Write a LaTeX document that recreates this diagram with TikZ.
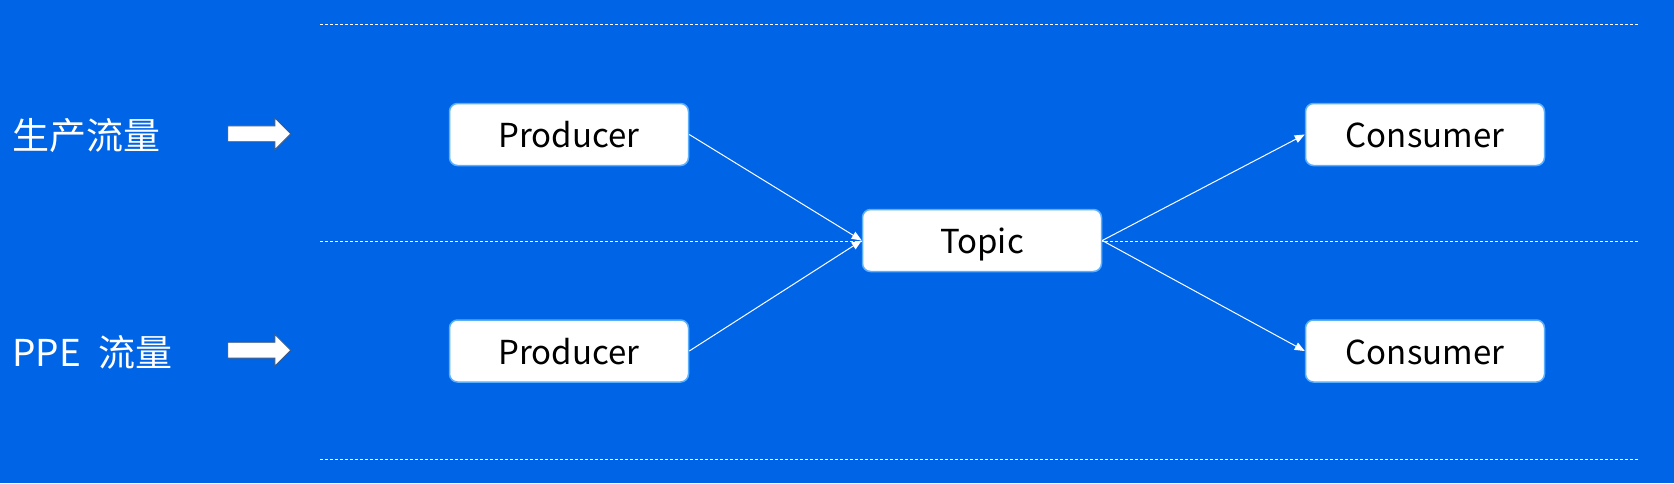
\documentclass[tikz,border=0pt]{standalone}
\usepackage{fontspec}
\setmainfont{Noto Sans CJK SC}
\newfontfamily\cjk{Noto Sans CJK SC}
\usetikzlibrary{shapes.arrows,arrows.meta}
\definecolor{bg}{HTML}{0064E6}
\definecolor{edgeblue}{HTML}{5AB0FF}
\definecolor{arrowline}{HTML}{3A5A8A}
\begin{document}
\begin{tikzpicture}[x=1pt,y=-1pt,
  box/.style={draw=edgeblue, line width=1.5pt, fill=white, rounded corners=8pt,
    minimum width=239pt, minimum height=62pt, inner sep=0pt,
    text height=26pt, text depth=0pt,
    font=\fontsize{33}{40}\selectfont, text=black},
  conn/.style={draw=white, line width=1pt, -{Triangle[length=10pt,width=8pt]}},
  sepline/.style={draw=white, line width=0.8pt, dash pattern=on 3pt off 2pt},
  lbl/.style={text=white, font=\cjk\fontsize{37}{42}\selectfont, anchor=west, inner sep=0pt},
  blockarrow/.style={single arrow, draw=arrowline, line width=0.8pt, fill=white,
    minimum height=63pt, minimum width=31pt, inner sep=7.5pt,
    single arrow head extend=8pt, single arrow head indent=0pt}]
\fill[bg] (0,0) rectangle (1674,483);
\useasboundingbox (0,0) rectangle (1674,483);
% separators
\coordinate (s1a) at (320,24.6); \coordinate (s1b) at (1639,24.6);
\coordinate (s2a) at (320,241.3); \coordinate (s2b) at (1639,241.3);
\coordinate (s3a) at (320,459); \coordinate (s3b) at (1639,459);
\draw[sepline] (s1a) -- (s1b);
\draw[sepline] (s2a) -- (s2b);
\draw[sepline] (s3a) -- (s3b);
% labels
\node[lbl] (l1) at (12,136) {生产流量};
\node[lbl] (l2) at (12,352) {PPE\hspace{18pt}流量};
\node[blockarrow] (a1) at (255.3,133.8) {};
\node[blockarrow] (a2) at (255.3,350.2) {};
% boxes
\node[box] (p1) at (569,134.5) {Producer};
\node[box] (p2) at (569,351) {Producer};
\node[box] (t) at (982,240.5) {Topic};
\node[box] (c1) at (1425,134.5) {Consumer};
\node[box] (c2) at (1425,351) {Consumer};
% connectors
\draw[conn] (p1.east) -- (t.west);
\draw[conn] (p2.east) -- (t.west);
\draw[conn] (t.east) -- (c1.west);
\draw[conn] (t.east) -- (c2.west);
\end{tikzpicture}
\end{document}
